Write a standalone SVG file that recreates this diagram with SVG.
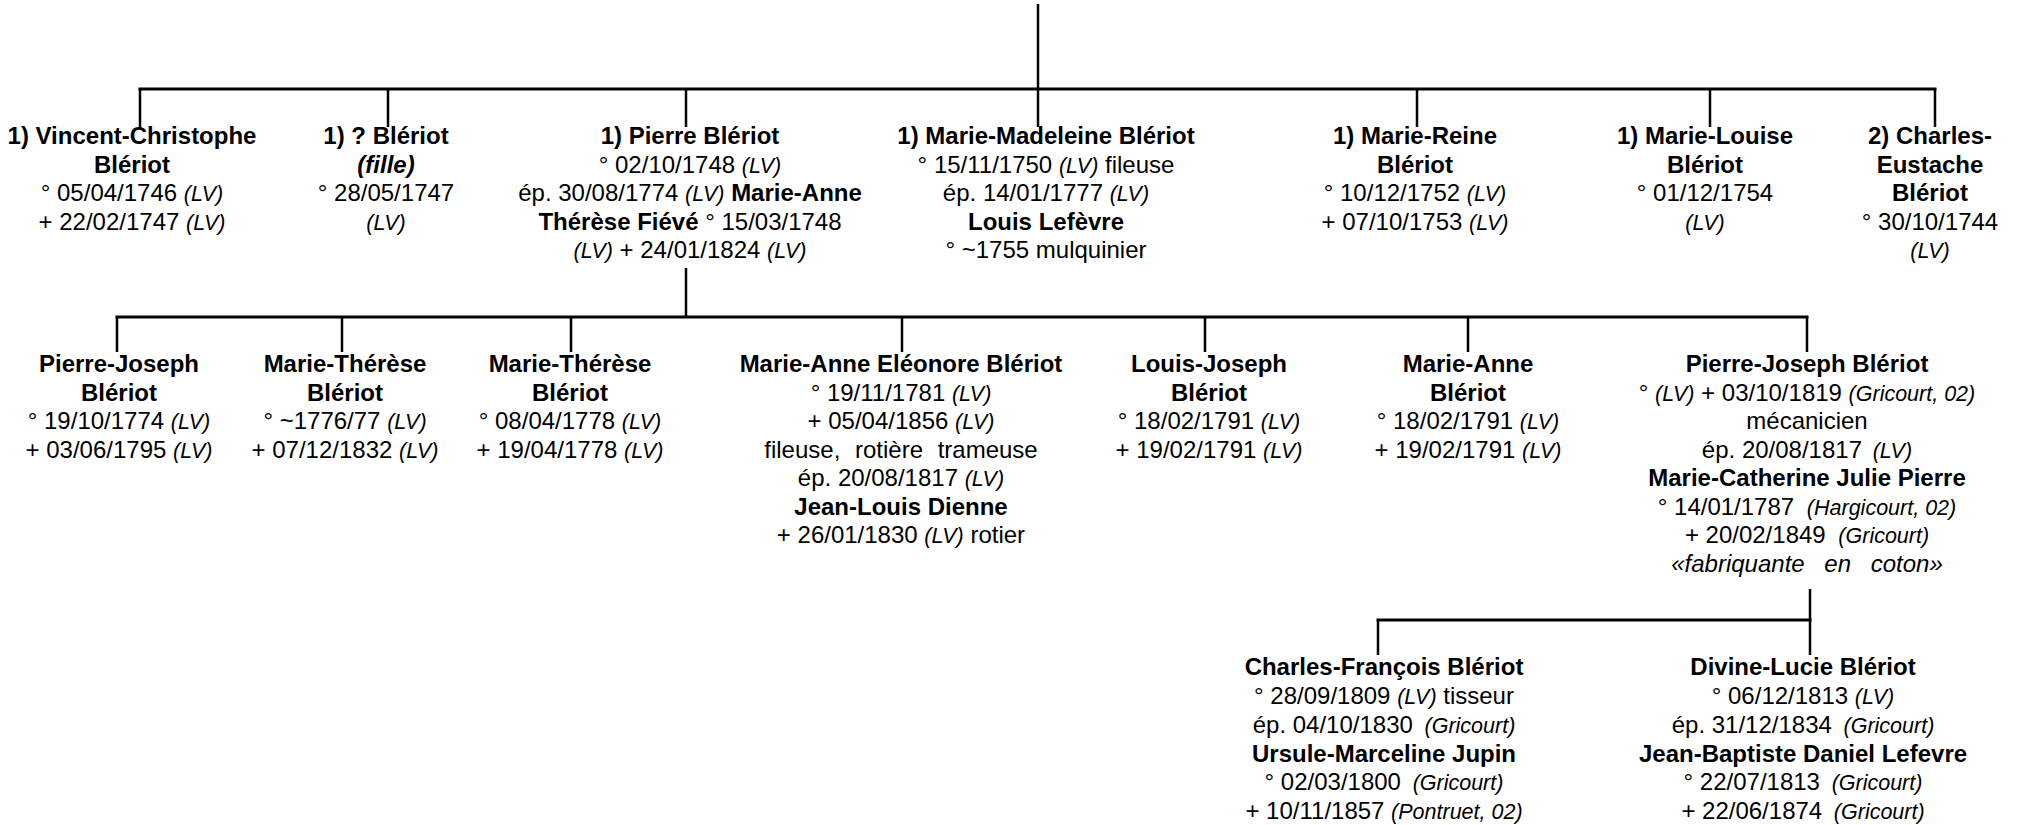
<svg xmlns="http://www.w3.org/2000/svg" width="2021" height="825" viewBox="0 0 2021 825">
<style>
text{font-family:"Liberation Sans",Arial,sans-serif;font-size:24px;fill:#000;text-anchor:middle}
.b{font-weight:bold}
.i{font-style:italic;font-size:21.5px}
.bi{font-weight:bold;font-style:italic}
.it{font-style:italic}
.h{stroke:#000;stroke-width:3;stroke-linecap:square;fill:none}
.v{stroke:#000;stroke-width:2.5;fill:none}
</style>
<rect width="2021" height="825" fill="#fff"/>
<g id="connectors">
<line class="v" x1="1038" y1="4" x2="1038" y2="127"/>
<line class="h" x1="140" y1="89" x2="1935" y2="89"/>
<line class="v" x1="140" y1="89" x2="140" y2="127"/>
<line class="v" x1="388" y1="89" x2="388" y2="127"/>
<line class="v" x1="686" y1="89" x2="686" y2="127"/>
<line class="v" x1="1417" y1="89" x2="1417" y2="127"/>
<line class="v" x1="1710" y1="89" x2="1710" y2="127"/>
<line class="v" x1="1935" y1="89" x2="1935" y2="127"/>
<line class="v" x1="686" y1="268" x2="686" y2="317"/>
<line class="h" x1="117" y1="317" x2="1807" y2="317"/>
<line class="v" x1="117" y1="317" x2="117" y2="352"/>
<line class="v" x1="342" y1="317" x2="342" y2="352"/>
<line class="v" x1="571" y1="317" x2="571" y2="352"/>
<line class="v" x1="902" y1="317" x2="902" y2="352"/>
<line class="v" x1="1205" y1="317" x2="1205" y2="352"/>
<line class="v" x1="1468" y1="317" x2="1468" y2="352"/>
<line class="v" x1="1807" y1="317" x2="1807" y2="352"/>
<line class="v" x1="1810" y1="589" x2="1810" y2="655"/>
<line class="h" x1="1378" y1="620" x2="1810" y2="620"/>
<line class="v" x1="1378" y1="620" x2="1378" y2="655"/>
</g>
<g id="vincent">
<text x="132" y="144" class="b">1) Vincent-Christophe</text>
<text x="132" y="172.5" class="b">Blériot</text>
<text x="132" y="201">° 05/04/1746 <tspan class="i">(LV)</tspan></text>
<text x="132" y="229.5">+ 22/02/1747 <tspan class="i">(LV)</tspan></text>
</g>
<g id="fille">
<text x="386" y="144" class="b">1) ? Blériot</text>
<text x="386" y="172.5" class="bi">(fille)</text>
<text x="386" y="201">° 28/05/1747</text>
<text x="386" y="229.5" class="i">(LV)</text>
</g>
<g id="pierre">
<text x="690" y="144" class="b">1) Pierre Blériot</text>
<text x="690" y="172.5">° 02/10/1748 <tspan class="i">(LV)</tspan></text>
<text x="690" y="201">ép. 30/08/1774 <tspan class="i">(LV)</tspan> <tspan class="b">Marie-Anne</tspan></text>
<text x="690" y="229.5"><tspan class="b">Thérèse Fiévé</tspan> ° 15/03/1748</text>
<text x="690" y="258"><tspan class="i">(LV)</tspan> + 24/01/1824 <tspan class="i">(LV)</tspan></text>
</g>
<g id="marie-madeleine">
<text x="1046" y="144" class="b">1) Marie-Madeleine Blériot</text>
<text x="1046" y="172.5">° 15/11/1750 <tspan class="i">(LV)</tspan> fileuse</text>
<text x="1046" y="201">ép. 14/01/1777 <tspan class="i">(LV)</tspan></text>
<text x="1046" y="229.5" class="b">Louis Lefèvre</text>
<text x="1046" y="258">° ~1755 mulquinier</text>
</g>
<g id="marie-reine">
<text x="1415" y="144" class="b">1) Marie-Reine</text>
<text x="1415" y="172.5" class="b">Blériot</text>
<text x="1415" y="201">° 10/12/1752 <tspan class="i">(LV)</tspan></text>
<text x="1415" y="229.5">+ 07/10/1753 <tspan class="i">(LV)</tspan></text>
</g>
<g id="marie-louise">
<text x="1705" y="144" class="b">1) Marie-Louise</text>
<text x="1705" y="172.5" class="b">Blériot</text>
<text x="1705" y="201">° 01/12/1754</text>
<text x="1705" y="229.5" class="i">(LV)</text>
</g>
<g id="charles-eustache">
<text x="1930" y="144" class="b">2) Charles-</text>
<text x="1930" y="172.5" class="b">Eustache</text>
<text x="1930" y="201" class="b">Blériot</text>
<text x="1930" y="229.5">° 30/10/1744</text>
<text x="1930" y="258" class="i">(LV)</text>
</g>
<g id="pierre-joseph-1">
<text x="119" y="372" class="b">Pierre-Joseph</text>
<text x="119" y="400.5" class="b">Blériot</text>
<text x="119" y="429">° 19/10/1774 <tspan class="i">(LV)</tspan></text>
<text x="119" y="457.5">+ 03/06/1795 <tspan class="i">(LV)</tspan></text>
</g>
<g id="marie-therese-1">
<text x="345" y="372" class="b">Marie-Thérèse</text>
<text x="345" y="400.5" class="b">Blériot</text>
<text x="345" y="429">° ~1776/77 <tspan class="i">(LV)</tspan></text>
<text x="345" y="457.5">+ 07/12/1832 <tspan class="i">(LV)</tspan></text>
</g>
<g id="marie-therese-2">
<text x="570" y="372" class="b">Marie-Thérèse</text>
<text x="570" y="400.5" class="b">Blériot</text>
<text x="570" y="429">° 08/04/1778 <tspan class="i">(LV)</tspan></text>
<text x="570" y="457.5">+ 19/04/1778 <tspan class="i">(LV)</tspan></text>
</g>
<g id="marie-anne-eleonore">
<text x="901" y="372" class="b">Marie-Anne Eléonore Blériot</text>
<text x="901" y="400.5">° 19/11/1781 <tspan class="i">(LV)</tspan></text>
<text x="901" y="429">+ 05/04/1856 <tspan class="i">(LV)</tspan></text>
<text x="901" y="457.5" word-spacing="8">fileuse, rotière trameuse</text>
<text x="901" y="486">ép. 20/08/1817 <tspan class="i">(LV)</tspan></text>
<text x="901" y="514.5" class="b">Jean-Louis Dienne</text>
<text x="901" y="543">+ 26/01/1830 <tspan class="i">(LV)</tspan> rotier</text>
</g>
<g id="louis-joseph">
<text x="1209" y="372" class="b">Louis-Joseph</text>
<text x="1209" y="400.5" class="b">Blériot</text>
<text x="1209" y="429">° 18/02/1791 <tspan class="i">(LV)</tspan></text>
<text x="1209" y="457.5">+ 19/02/1791 <tspan class="i">(LV)</tspan></text>
</g>
<g id="marie-anne">
<text x="1468" y="372" class="b">Marie-Anne</text>
<text x="1468" y="400.5" class="b">Blériot</text>
<text x="1468" y="429">° 18/02/1791 <tspan class="i">(LV)</tspan></text>
<text x="1468" y="457.5">+ 19/02/1791 <tspan class="i">(LV)</tspan></text>
</g>
<g id="pierre-joseph-2">
<text x="1807" y="372" class="b">Pierre-Joseph Blériot</text>
<text x="1807" y="400.5">° <tspan class="i">(LV)</tspan> + 03/10/1819 <tspan class="i">(Gricourt, 02)</tspan></text>
<text x="1807" y="429">mécanicien</text>
<text x="1807" y="457.5">ép. 20/08/1817 <tspan class="i" dx="4">(LV)</tspan></text>
<text x="1807" y="486" class="b">Marie-Catherine Julie Pierre</text>
<text x="1807" y="514.5">° 14/01/1787 <tspan class="i" dx="6">(Hargicourt, 02)</tspan></text>
<text x="1807" y="543">+ 20/02/1849 <tspan class="i" dx="6">(Gricourt)</tspan></text>
<text x="1807" y="572" class="it" word-spacing="13">«fabriquante en coton»</text>
</g>
<g id="charles-francois">
<text x="1384" y="675" class="b">Charles-François Blériot</text>
<text x="1384" y="704">° 28/09/1809 <tspan class="i">(LV)</tspan> tisseur</text>
<text x="1384" y="733">ép. 04/10/1830 <tspan class="i" dx="5">(Gricourt)</tspan></text>
<text x="1384" y="761.5" class="b">Ursule-Marceline Jupin</text>
<text x="1384" y="790">° 02/03/1800 <tspan class="i" dx="5">(Gricourt)</tspan></text>
<text x="1384" y="818.5">+ 10/11/1857 <tspan class="i">(Pontruet, 02)</tspan></text>
</g>
<g id="divine-lucie">
<text x="1803" y="675" class="b">Divine-Lucie Blériot</text>
<text x="1803" y="704">° 06/12/1813 <tspan class="i">(LV)</tspan></text>
<text x="1803" y="733">ép. 31/12/1834 <tspan class="i" dx="5">(Gricourt)</tspan></text>
<text x="1803" y="761.5" class="b">Jean-Baptiste Daniel Lefevre</text>
<text x="1803" y="790">° 22/07/1813 <tspan class="i" dx="5">(Gricourt)</tspan></text>
<text x="1803" y="818.5">+ 22/06/1874 <tspan class="i" dx="5">(Gricourt)</tspan></text>
</g>
</svg>
